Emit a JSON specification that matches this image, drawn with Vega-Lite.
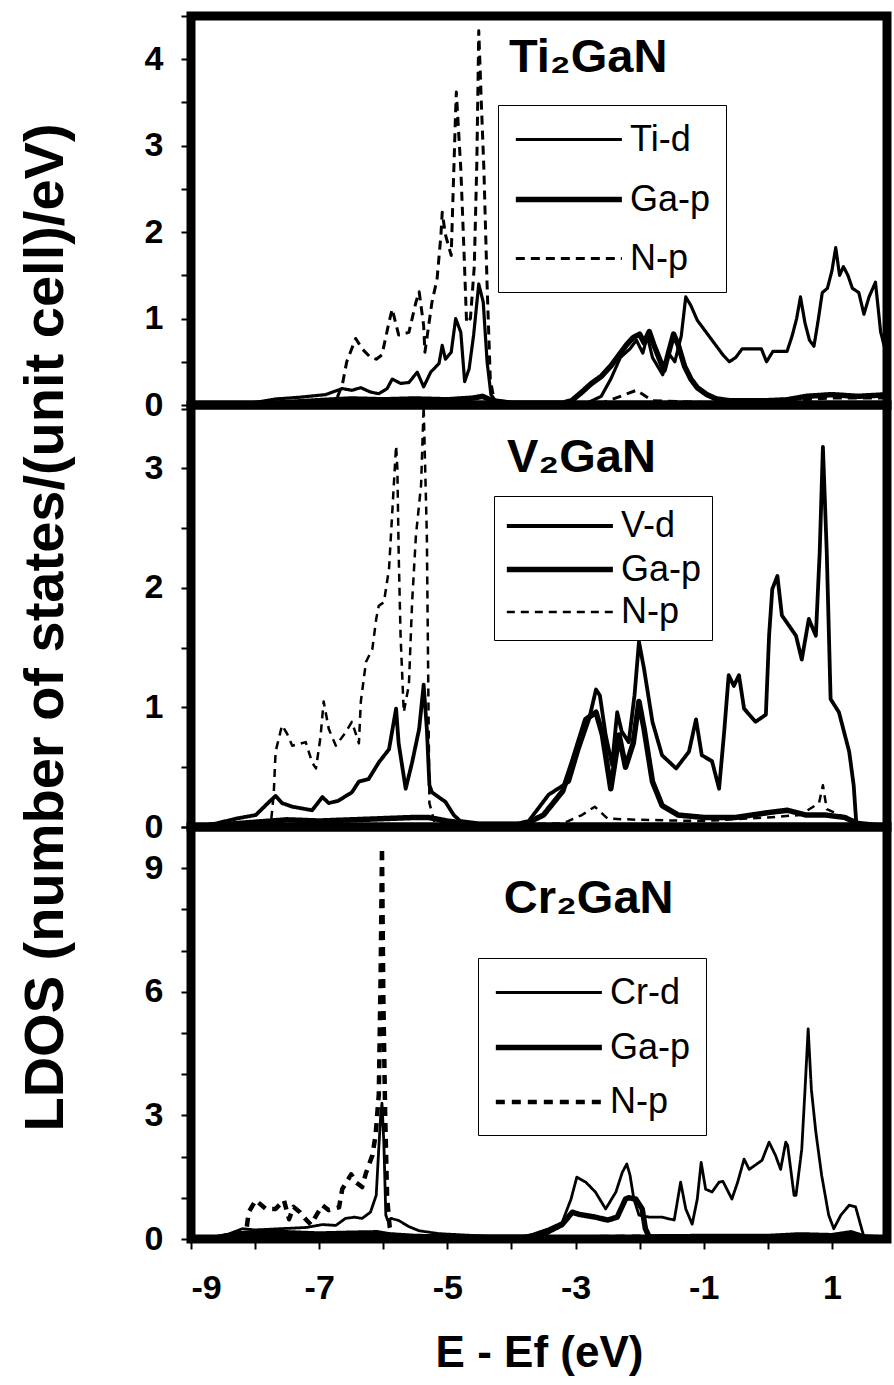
{
"$schema": "https://vega.github.io/schema/vega-lite/v6.json",
"background": "white",
"padding": {"left": 12, "top": 10, "right": 0, "bottom": 0},
"spacing": 0,
"bounds": "flush",
"config": {
  "font": "Liberation Sans",
  "view": {"stroke": "black", "strokeWidth": 9},
  "axis": {"grid": false, "domain": false, "tickColor": "black", "tickWidth": 2, "tickSize": 10, "labelColor": "black", "labelFont": "Liberation Sans", "labelFontWeight": "bold", "labelFontSize": 34, "titleColor": "black", "titleFont": "Liberation Sans", "titleFontWeight": "bold"},
  "legend": {"title": null, "orient": "none", "symbolType": "M-1,0H5", "symbolSize": 1250, "symbolStrokeColor": "black", "symbolFillColor": "transparent", "labelFont": "Liberation Sans", "labelFontSize": 36, "labelColor": "black", "strokeColor": "black", "fillColor": "white", "padding": 15, "labelOffset": 76}
},
"datasets": {
"ti": [
{"E":-9,"L":0,"s":"Ti-d"},{"E":-8.5,"L":0.01,"s":"Ti-d"},{"E":-8,"L":0.03,"s":"Ti-d"},{"E":-7.67,"L":0.07,"s":"Ti-d"},{"E":-7.3,"L":0.09,"s":"Ti-d"},{"E":-6.9,"L":0.12,"s":"Ti-d"},{"E":-6.64,"L":0.19,"s":"Ti-d"},{"E":-6.49,"L":0.17,"s":"Ti-d"},{"E":-6.35,"L":0.2,"s":"Ti-d"},{"E":-6.2,"L":0.15,"s":"Ti-d"},{"E":-6.07,"L":0.13,"s":"Ti-d"},{"E":-5.94,"L":0.19,"s":"Ti-d"},{"E":-5.86,"L":0.3,"s":"Ti-d"},{"E":-5.73,"L":0.25,"s":"Ti-d"},{"E":-5.6,"L":0.26,"s":"Ti-d"},{"E":-5.47,"L":0.38,"s":"Ti-d"},{"E":-5.37,"L":0.21,"s":"Ti-d"},{"E":-5.26,"L":0.38,"s":"Ti-d"},{"E":-5.13,"L":0.48,"s":"Ti-d"},{"E":-5.08,"L":0.69,"s":"Ti-d"},{"E":-5.03,"L":0.53,"s":"Ti-d"},{"E":-4.94,"L":0.61,"s":"Ti-d"},{"E":-4.87,"L":1.0,"s":"Ti-d"},{"E":-4.79,"L":0.84,"s":"Ti-d"},{"E":-4.73,"L":0.27,"s":"Ti-d"},{"E":-4.66,"L":0.42,"s":"Ti-d"},{"E":-4.59,"L":0.81,"s":"Ti-d"},{"E":-4.51,"L":1.4,"s":"Ti-d"},{"E":-4.44,"L":1.19,"s":"Ti-d"},{"E":-4.38,"L":0.5,"s":"Ti-d"},{"E":-4.32,"L":0.12,"s":"Ti-d"},{"E":-4.25,"L":0.05,"s":"Ti-d"},{"E":-4.0,"L":0.03,"s":"Ti-d"},{"E":-3.5,"L":0.02,"s":"Ti-d"},{"E":-3.0,"L":0.02,"s":"Ti-d"},{"E":-2.8,"L":0.03,"s":"Ti-d"},{"E":-2.6,"L":0.1,"s":"Ti-d"},{"E":-2.45,"L":0.3,"s":"Ti-d"},{"E":-2.3,"L":0.55,"s":"Ti-d"},{"E":-2.15,"L":0.65,"s":"Ti-d"},{"E":-2.05,"L":0.75,"s":"Ti-d"},{"E":-1.95,"L":0.6,"s":"Ti-d"},{"E":-1.88,"L":0.8,"s":"Ti-d"},{"E":-1.8,"L":0.55,"s":"Ti-d"},{"E":-1.72,"L":0.45,"s":"Ti-d"},{"E":-1.64,"L":0.35,"s":"Ti-d"},{"E":-1.55,"L":0.6,"s":"Ti-d"},{"E":-1.45,"L":0.5,"s":"Ti-d"},{"E":-1.35,"L":0.8,"s":"Ti-d"},{"E":-1.28,"L":1.25,"s":"Ti-d"},{"E":-1.2,"L":1.15,"s":"Ti-d"},{"E":-1.1,"L":0.98,"s":"Ti-d"},{"E":-1.0,"L":0.88,"s":"Ti-d"},{"E":-0.9,"L":0.78,"s":"Ti-d"},{"E":-0.8,"L":0.68,"s":"Ti-d"},{"E":-0.7,"L":0.58,"s":"Ti-d"},{"E":-0.6,"L":0.5,"s":"Ti-d"},{"E":-0.5,"L":0.55,"s":"Ti-d"},{"E":-0.4,"L":0.65,"s":"Ti-d"},{"E":-0.25,"L":0.65,"s":"Ti-d"},{"E":-0.1,"L":0.65,"s":"Ti-d"},{"E":-0.02,"L":0.5,"s":"Ti-d"},{"E":0.08,"L":0.62,"s":"Ti-d"},{"E":0.2,"L":0.62,"s":"Ti-d"},{"E":0.3,"L":0.62,"s":"Ti-d"},{"E":0.38,"L":0.8,"s":"Ti-d"},{"E":0.45,"L":1.0,"s":"Ti-d"},{"E":0.51,"L":1.25,"s":"Ti-d"},{"E":0.58,"L":0.95,"s":"Ti-d"},{"E":0.65,"L":0.75,"s":"Ti-d"},{"E":0.72,"L":0.68,"s":"Ti-d"},{"E":0.78,"L":0.95,"s":"Ti-d"},{"E":0.85,"L":1.3,"s":"Ti-d"},{"E":0.93,"L":1.35,"s":"Ti-d"},{"E":1.0,"L":1.55,"s":"Ti-d"},{"E":1.06,"L":1.82,"s":"Ti-d"},{"E":1.12,"L":1.5,"s":"Ti-d"},{"E":1.18,"L":1.6,"s":"Ti-d"},{"E":1.25,"L":1.5,"s":"Ti-d"},{"E":1.32,"L":1.35,"s":"Ti-d"},{"E":1.42,"L":1.3,"s":"Ti-d"},{"E":1.5,"L":1.05,"s":"Ti-d"},{"E":1.58,"L":1.25,"s":"Ti-d"},{"E":1.68,"L":1.42,"s":"Ti-d"},{"E":1.76,"L":0.85,"s":"Ti-d"},{"E":1.85,"L":0.58,"s":"Ti-d"},{"E":1.92,"L":0.25,"s":"Ti-d"},
{"E":-9,"L":0,"s":"Ga-p"},{"E":-8.5,"L":0,"s":"Ga-p"},{"E":-7.7,"L":0.02,"s":"Ga-p"},{"E":-7.0,"L":0.05,"s":"Ga-p"},{"E":-6.5,"L":0.07,"s":"Ga-p"},{"E":-6.0,"L":0.06,"s":"Ga-p"},{"E":-5.5,"L":0.07,"s":"Ga-p"},{"E":-5.0,"L":0.06,"s":"Ga-p"},{"E":-4.6,"L":0.08,"s":"Ga-p"},{"E":-4.45,"L":0.1,"s":"Ga-p"},{"E":-4.3,"L":0.05,"s":"Ga-p"},{"E":-4.0,"L":0.02,"s":"Ga-p"},{"E":-3.2,"L":0.02,"s":"Ga-p"},{"E":-3.06,"L":0.05,"s":"Ga-p"},{"E":-2.9,"L":0.15,"s":"Ga-p"},{"E":-2.75,"L":0.25,"s":"Ga-p"},{"E":-2.6,"L":0.33,"s":"Ga-p"},{"E":-2.45,"L":0.45,"s":"Ga-p"},{"E":-2.35,"L":0.55,"s":"Ga-p"},{"E":-2.2,"L":0.7,"s":"Ga-p"},{"E":-2.1,"L":0.78,"s":"Ga-p"},{"E":-2.0,"L":0.82,"s":"Ga-p"},{"E":-1.93,"L":0.72,"s":"Ga-p"},{"E":-1.85,"L":0.85,"s":"Ga-p"},{"E":-1.78,"L":0.7,"s":"Ga-p"},{"E":-1.7,"L":0.55,"s":"Ga-p"},{"E":-1.62,"L":0.4,"s":"Ga-p"},{"E":-1.55,"L":0.6,"s":"Ga-p"},{"E":-1.47,"L":0.82,"s":"Ga-p"},{"E":-1.4,"L":0.7,"s":"Ga-p"},{"E":-1.3,"L":0.45,"s":"Ga-p"},{"E":-1.2,"L":0.3,"s":"Ga-p"},{"E":-1.1,"L":0.2,"s":"Ga-p"},{"E":-0.95,"L":0.12,"s":"Ga-p"},{"E":-0.8,"L":0.07,"s":"Ga-p"},{"E":-0.6,"L":0.05,"s":"Ga-p"},{"E":0,"L":0.05,"s":"Ga-p"},{"E":0.3,"L":0.06,"s":"Ga-p"},{"E":0.6,"L":0.1,"s":"Ga-p"},{"E":1.0,"L":0.12,"s":"Ga-p"},{"E":1.4,"L":0.1,"s":"Ga-p"},{"E":1.9,"L":0.12,"s":"Ga-p"},
{"E":-9,"L":0,"s":"N-p"},{"E":-7.5,"L":0,"s":"N-p"},{"E":-6.75,"L":0.03,"s":"N-p"},{"E":-6.64,"L":0.23,"s":"N-p"},{"E":-6.57,"L":0.5,"s":"N-p"},{"E":-6.43,"L":0.77,"s":"N-p"},{"E":-6.33,"L":0.65,"s":"N-p"},{"E":-6.2,"L":0.55,"s":"N-p"},{"E":-6.11,"L":0.53,"s":"N-p"},{"E":-6.02,"L":0.58,"s":"N-p"},{"E":-5.91,"L":0.96,"s":"N-p"},{"E":-5.86,"L":1.11,"s":"N-p"},{"E":-5.76,"L":0.81,"s":"N-p"},{"E":-5.6,"L":0.84,"s":"N-p"},{"E":-5.49,"L":1.19,"s":"N-p"},{"E":-5.44,"L":1.31,"s":"N-p"},{"E":-5.37,"L":0.92,"s":"N-p"},{"E":-5.35,"L":0.61,"s":"N-p"},{"E":-5.24,"L":1.19,"s":"N-p"},{"E":-5.16,"L":1.46,"s":"N-p"},{"E":-5.1,"L":1.97,"s":"N-p"},{"E":-5.08,"L":2.23,"s":"N-p"},{"E":-5.03,"L":1.97,"s":"N-p"},{"E":-4.94,"L":1.73,"s":"N-p"},{"E":-4.87,"L":3.42,"s":"N-p"},{"E":-4.86,"L":3.62,"s":"N-p"},{"E":-4.79,"L":2.73,"s":"N-p"},{"E":-4.74,"L":1.77,"s":"N-p"},{"E":-4.7,"L":0.95,"s":"N-p"},{"E":-4.64,"L":1.0,"s":"N-p"},{"E":-4.58,"L":1.6,"s":"N-p"},{"E":-4.54,"L":2.8,"s":"N-p"},{"E":-4.51,"L":4.33,"s":"N-p"},{"E":-4.47,"L":3.5,"s":"N-p"},{"E":-4.43,"L":2.73,"s":"N-p"},{"E":-4.38,"L":1.39,"s":"N-p"},{"E":-4.33,"L":0.3,"s":"N-p"},{"E":-4.27,"L":0.05,"s":"N-p"},{"E":-4.0,"L":0.02,"s":"N-p"},{"E":-2.6,"L":0.02,"s":"N-p"},{"E":-2.3,"L":0.1,"s":"N-p"},{"E":-2.05,"L":0.17,"s":"N-p"},{"E":-1.8,"L":0.05,"s":"N-p"},{"E":-1.0,"L":0.03,"s":"N-p"},{"E":0,"L":0.03,"s":"N-p"},{"E":0.5,"L":0.06,"s":"N-p"},{"E":1.0,"L":0.08,"s":"N-p"},{"E":1.9,"L":0.08,"s":"N-p"}
],
"v": [
{"E":-9,"L":0,"s":"V-d"},{"E":-8.6,"L":0.03,"s":"V-d"},{"E":-8.3,"L":0.07,"s":"V-d"},{"E":-7.99,"L":0.1,"s":"V-d"},{"E":-7.78,"L":0.21,"s":"V-d"},{"E":-7.68,"L":0.26,"s":"V-d"},{"E":-7.58,"L":0.2,"s":"V-d"},{"E":-7.42,"L":0.17,"s":"V-d"},{"E":-7.11,"L":0.14,"s":"V-d"},{"E":-6.95,"L":0.25,"s":"V-d"},{"E":-6.85,"L":0.2,"s":"V-d"},{"E":-6.7,"L":0.22,"s":"V-d"},{"E":-6.49,"L":0.29,"s":"V-d"},{"E":-6.38,"L":0.38,"s":"V-d"},{"E":-6.23,"L":0.4,"s":"V-d"},{"E":-6.07,"L":0.54,"s":"V-d"},{"E":-5.91,"L":0.65,"s":"V-d"},{"E":-5.8,"L":0.99,"s":"V-d"},{"E":-5.76,"L":0.7,"s":"V-d"},{"E":-5.65,"L":0.32,"s":"V-d"},{"E":-5.55,"L":0.54,"s":"V-d"},{"E":-5.44,"L":0.82,"s":"V-d"},{"E":-5.37,"L":1.19,"s":"V-d"},{"E":-5.32,"L":0.82,"s":"V-d"},{"E":-5.28,"L":0.35,"s":"V-d"},{"E":-5.24,"L":0.29,"s":"V-d"},{"E":-5.03,"L":0.21,"s":"V-d"},{"E":-4.9,"L":0.1,"s":"V-d"},{"E":-4.8,"L":0.05,"s":"V-d"},{"E":-4.5,"L":0.03,"s":"V-d"},{"E":-3.9,"L":0.03,"s":"V-d"},{"E":-3.73,"L":0.05,"s":"V-d"},{"E":-3.42,"L":0.27,"s":"V-d"},{"E":-3.1,"L":0.38,"s":"V-d"},{"E":-2.95,"L":0.65,"s":"V-d"},{"E":-2.79,"L":0.9,"s":"V-d"},{"E":-2.68,"L":1.15,"s":"V-d"},{"E":-2.62,"L":1.1,"s":"V-d"},{"E":-2.53,"L":0.77,"s":"V-d"},{"E":-2.43,"L":0.52,"s":"V-d"},{"E":-2.35,"L":0.96,"s":"V-d"},{"E":-2.28,"L":0.8,"s":"V-d"},{"E":-2.17,"L":0.71,"s":"V-d"},{"E":-2.08,"L":1.1,"s":"V-d"},{"E":-2.01,"L":1.55,"s":"V-d"},{"E":-1.93,"L":1.32,"s":"V-d"},{"E":-1.8,"L":0.88,"s":"V-d"},{"E":-1.65,"L":0.6,"s":"V-d"},{"E":-1.43,"L":0.49,"s":"V-d"},{"E":-1.23,"L":0.63,"s":"V-d"},{"E":-1.12,"L":0.9,"s":"V-d"},{"E":-1.03,"L":0.6,"s":"V-d"},{"E":-0.87,"L":0.55,"s":"V-d"},{"E":-0.76,"L":0.32,"s":"V-d"},{"E":-0.68,"L":0.8,"s":"V-d"},{"E":-0.61,"L":1.27,"s":"V-d"},{"E":-0.53,"L":1.18,"s":"V-d"},{"E":-0.45,"L":1.27,"s":"V-d"},{"E":-0.37,"L":0.99,"s":"V-d"},{"E":-0.19,"L":0.88,"s":"V-d"},{"E":-0.03,"L":0.94,"s":"V-d"},{"E":0.02,"L":1.6,"s":"V-d"},{"E":0.07,"L":1.99,"s":"V-d"},{"E":0.15,"L":2.1,"s":"V-d"},{"E":0.22,"L":1.77,"s":"V-d"},{"E":0.44,"L":1.6,"s":"V-d"},{"E":0.53,"L":1.4,"s":"V-d"},{"E":0.64,"L":1.74,"s":"V-d"},{"E":0.75,"L":1.6,"s":"V-d"},{"E":0.81,"L":2.3,"s":"V-d"},{"E":0.86,"L":3.18,"s":"V-d"},{"E":0.92,"L":2.3,"s":"V-d"},{"E":0.98,"L":1.07,"s":"V-d"},{"E":1.11,"L":0.96,"s":"V-d"},{"E":1.27,"L":0.63,"s":"V-d"},{"E":1.34,"L":0.35,"s":"V-d"},{"E":1.38,"L":0.04,"s":"V-d"},{"E":1.5,"L":0,"s":"V-d"},{"E":1.9,"L":0,"s":"V-d"},
{"E":-9,"L":0,"s":"Ga-p"},{"E":-8.5,"L":0.02,"s":"Ga-p"},{"E":-8,"L":0.04,"s":"Ga-p"},{"E":-7.5,"L":0.06,"s":"Ga-p"},{"E":-7,"L":0.05,"s":"Ga-p"},{"E":-6.5,"L":0.06,"s":"Ga-p"},{"E":-6,"L":0.07,"s":"Ga-p"},{"E":-5.5,"L":0.08,"s":"Ga-p"},{"E":-5.3,"L":0.08,"s":"Ga-p"},{"E":-5.0,"L":0.05,"s":"Ga-p"},{"E":-4.6,"L":0.02,"s":"Ga-p"},{"E":-3.8,"L":0.02,"s":"Ga-p"},{"E":-3.5,"L":0.1,"s":"Ga-p"},{"E":-3.2,"L":0.3,"s":"Ga-p"},{"E":-3.05,"L":0.54,"s":"Ga-p"},{"E":-2.84,"L":0.9,"s":"Ga-p"},{"E":-2.68,"L":0.96,"s":"Ga-p"},{"E":-2.58,"L":0.77,"s":"Ga-p"},{"E":-2.45,"L":0.32,"s":"Ga-p"},{"E":-2.32,"L":0.77,"s":"Ga-p"},{"E":-2.22,"L":0.5,"s":"Ga-p"},{"E":-2.1,"L":0.7,"s":"Ga-p"},{"E":-2.01,"L":1.05,"s":"Ga-p"},{"E":-1.93,"L":0.82,"s":"Ga-p"},{"E":-1.8,"L":0.38,"s":"Ga-p"},{"E":-1.65,"L":0.18,"s":"Ga-p"},{"E":-1.4,"L":0.1,"s":"Ga-p"},{"E":-1.0,"L":0.08,"s":"Ga-p"},{"E":-0.5,"L":0.08,"s":"Ga-p"},{"E":0,"L":0.12,"s":"Ga-p"},{"E":0.3,"L":0.14,"s":"Ga-p"},{"E":0.6,"L":0.1,"s":"Ga-p"},{"E":0.9,"L":0.1,"s":"Ga-p"},{"E":1.2,"L":0.08,"s":"Ga-p"},{"E":1.4,"L":0.03,"s":"Ga-p"},{"E":1.9,"L":0,"s":"Ga-p"},
{"E":-9,"L":0,"s":"N-p"},{"E":-7.9,"L":0,"s":"N-p"},{"E":-7.75,"L":0.05,"s":"N-p"},{"E":-7.71,"L":0.27,"s":"N-p"},{"E":-7.68,"L":0.63,"s":"N-p"},{"E":-7.58,"L":0.85,"s":"N-p"},{"E":-7.5,"L":0.78,"s":"N-p"},{"E":-7.42,"L":0.68,"s":"N-p"},{"E":-7.21,"L":0.71,"s":"N-p"},{"E":-7.11,"L":0.54,"s":"N-p"},{"E":-7.05,"L":0.49,"s":"N-p"},{"E":-6.98,"L":0.75,"s":"N-p"},{"E":-6.93,"L":1.05,"s":"N-p"},{"E":-6.85,"L":0.82,"s":"N-p"},{"E":-6.74,"L":0.68,"s":"N-p"},{"E":-6.59,"L":0.79,"s":"N-p"},{"E":-6.49,"L":0.88,"s":"N-p"},{"E":-6.38,"L":0.7,"s":"N-p"},{"E":-6.35,"L":1.05,"s":"N-p"},{"E":-6.27,"L":1.38,"s":"N-p"},{"E":-6.17,"L":1.49,"s":"N-p"},{"E":-6.11,"L":1.74,"s":"N-p"},{"E":-6.07,"L":1.85,"s":"N-p"},{"E":-5.99,"L":1.88,"s":"N-p"},{"E":-5.91,"L":2.16,"s":"N-p"},{"E":-5.86,"L":2.63,"s":"N-p"},{"E":-5.8,"L":3.19,"s":"N-p"},{"E":-5.78,"L":3.0,"s":"N-p"},{"E":-5.76,"L":2.3,"s":"N-p"},{"E":-5.73,"L":1.6,"s":"N-p"},{"E":-5.68,"L":0.96,"s":"N-p"},{"E":-5.6,"L":1.19,"s":"N-p"},{"E":-5.55,"L":1.88,"s":"N-p"},{"E":-5.49,"L":2.44,"s":"N-p"},{"E":-5.41,"L":2.86,"s":"N-p"},{"E":-5.37,"L":3.52,"s":"N-p"},{"E":-5.32,"L":2.44,"s":"N-p"},{"E":-5.3,"L":1.32,"s":"N-p"},{"E":-5.28,"L":0.2,"s":"N-p"},{"E":-5.2,"L":0.04,"s":"N-p"},{"E":-4.5,"L":0.02,"s":"N-p"},{"E":-3.2,"L":0.03,"s":"N-p"},{"E":-2.9,"L":0.1,"s":"N-p"},{"E":-2.7,"L":0.17,"s":"N-p"},{"E":-2.5,"L":0.07,"s":"N-p"},{"E":-2.0,"L":0.06,"s":"N-p"},{"E":-1,"L":0.05,"s":"N-p"},{"E":0,"L":0.08,"s":"N-p"},{"E":0.5,"L":0.1,"s":"N-p"},{"E":0.8,"L":0.2,"s":"N-p"},{"E":0.86,"L":0.35,"s":"N-p"},{"E":0.92,"L":0.15,"s":"N-p"},{"E":1.2,"L":0.08,"s":"N-p"},{"E":1.4,"L":0.02,"s":"N-p"},{"E":1.9,"L":0,"s":"N-p"}
],
"cr": [
{"E":-9,"L":0,"s":"Cr-d"},{"E":-8.7,"L":0.03,"s":"Cr-d"},{"E":-8.41,"L":0.12,"s":"Cr-d"},{"E":-8.2,"L":0.25,"s":"Cr-d"},{"E":-8.0,"L":0.22,"s":"Cr-d"},{"E":-7.6,"L":0.25,"s":"Cr-d"},{"E":-7.2,"L":0.28,"s":"Cr-d"},{"E":-6.95,"L":0.35,"s":"Cr-d"},{"E":-6.74,"L":0.33,"s":"Cr-d"},{"E":-6.59,"L":0.5,"s":"Cr-d"},{"E":-6.45,"L":0.53,"s":"Cr-d"},{"E":-6.33,"L":0.5,"s":"Cr-d"},{"E":-6.2,"L":0.65,"s":"Cr-d"},{"E":-6.11,"L":1.06,"s":"Cr-d"},{"E":-6.07,"L":2.2,"s":"Cr-d"},{"E":-6.04,"L":3.0,"s":"Cr-d"},{"E":-6.02,"L":3.3,"s":"Cr-d"},{"E":-5.99,"L":2.3,"s":"Cr-d"},{"E":-5.96,"L":0.58,"s":"Cr-d"},{"E":-5.93,"L":0.45,"s":"Cr-d"},{"E":-5.88,"L":0.5,"s":"Cr-d"},{"E":-5.76,"L":0.45,"s":"Cr-d"},{"E":-5.6,"L":0.3,"s":"Cr-d"},{"E":-5.44,"L":0.2,"s":"Cr-d"},{"E":-5.13,"L":0.13,"s":"Cr-d"},{"E":-4.77,"L":0.1,"s":"Cr-d"},{"E":-4.3,"L":0.06,"s":"Cr-d"},{"E":-3.9,"L":0.05,"s":"Cr-d"},{"E":-3.73,"L":0.08,"s":"Cr-d"},{"E":-3.42,"L":0.25,"s":"Cr-d"},{"E":-3.21,"L":0.4,"s":"Cr-d"},{"E":-3.07,"L":0.97,"s":"Cr-d"},{"E":-2.98,"L":1.5,"s":"Cr-d"},{"E":-2.84,"L":1.38,"s":"Cr-d"},{"E":-2.69,"L":1.14,"s":"Cr-d"},{"E":-2.53,"L":0.73,"s":"Cr-d"},{"E":-2.37,"L":1.14,"s":"Cr-d"},{"E":-2.27,"L":1.62,"s":"Cr-d"},{"E":-2.2,"L":1.82,"s":"Cr-d"},{"E":-2.15,"L":1.55,"s":"Cr-d"},{"E":-2.09,"L":0.97,"s":"Cr-d"},{"E":-2.01,"L":0.58,"s":"Cr-d"},{"E":-1.85,"L":0.53,"s":"Cr-d"},{"E":-1.65,"L":0.53,"s":"Cr-d"},{"E":-1.46,"L":0.46,"s":"Cr-d"},{"E":-1.36,"L":1.38,"s":"Cr-d"},{"E":-1.28,"L":0.73,"s":"Cr-d"},{"E":-1.18,"L":0.36,"s":"Cr-d"},{"E":-1.1,"L":0.97,"s":"Cr-d"},{"E":-1.04,"L":1.86,"s":"Cr-d"},{"E":-0.97,"L":1.21,"s":"Cr-d"},{"E":-0.87,"L":1.14,"s":"Cr-d"},{"E":-0.76,"L":1.38,"s":"Cr-d"},{"E":-0.7,"L":1.4,"s":"Cr-d"},{"E":-0.56,"L":0.97,"s":"Cr-d"},{"E":-0.47,"L":1.38,"s":"Cr-d"},{"E":-0.37,"L":1.94,"s":"Cr-d"},{"E":-0.29,"L":1.69,"s":"Cr-d"},{"E":-0.09,"L":1.91,"s":"Cr-d"},{"E":0.02,"L":2.35,"s":"Cr-d"},{"E":0.12,"L":2.03,"s":"Cr-d"},{"E":0.2,"L":1.69,"s":"Cr-d"},{"E":0.28,"L":2.35,"s":"Cr-d"},{"E":0.31,"L":2.27,"s":"Cr-d"},{"E":0.41,"L":1.06,"s":"Cr-d"},{"E":0.44,"L":1.06,"s":"Cr-d"},{"E":0.53,"L":2.18,"s":"Cr-d"},{"E":0.58,"L":3.6,"s":"Cr-d"},{"E":0.63,"L":5.1,"s":"Cr-d"},{"E":0.68,"L":3.63,"s":"Cr-d"},{"E":0.75,"L":2.59,"s":"Cr-d"},{"E":0.84,"L":1.55,"s":"Cr-d"},{"E":0.95,"L":0.58,"s":"Cr-d"},{"E":1.03,"L":0.25,"s":"Cr-d"},{"E":1.14,"L":0.58,"s":"Cr-d"},{"E":1.27,"L":0.82,"s":"Cr-d"},{"E":1.37,"L":0.78,"s":"Cr-d"},{"E":1.45,"L":0.33,"s":"Cr-d"},{"E":1.5,"L":0.05,"s":"Cr-d"},{"E":1.9,"L":0.02,"s":"Cr-d"},
{"E":-9,"L":0,"s":"Ga-p"},{"E":-8.6,"L":0.03,"s":"Ga-p"},{"E":-8.3,"L":0.12,"s":"Ga-p"},{"E":-8.0,"L":0.15,"s":"Ga-p"},{"E":-7.5,"L":0.15,"s":"Ga-p"},{"E":-7.0,"L":0.12,"s":"Ga-p"},{"E":-6.5,"L":0.14,"s":"Ga-p"},{"E":-6.1,"L":0.15,"s":"Ga-p"},{"E":-5.9,"L":0.1,"s":"Ga-p"},{"E":-5.5,"L":0.06,"s":"Ga-p"},{"E":-4.5,"L":0.04,"s":"Ga-p"},{"E":-3.8,"L":0.04,"s":"Ga-p"},{"E":-3.5,"L":0.12,"s":"Ga-p"},{"E":-3.21,"L":0.35,"s":"Ga-p"},{"E":-3.05,"L":0.65,"s":"Ga-p"},{"E":-2.95,"L":0.6,"s":"Ga-p"},{"E":-2.69,"L":0.53,"s":"Ga-p"},{"E":-2.5,"L":0.46,"s":"Ga-p"},{"E":-2.35,"L":0.53,"s":"Ga-p"},{"E":-2.22,"L":0.97,"s":"Ga-p"},{"E":-2.17,"L":1.0,"s":"Ga-p"},{"E":-2.06,"L":0.97,"s":"Ga-p"},{"E":-1.96,"L":0.73,"s":"Ga-p"},{"E":-1.91,"L":0.25,"s":"Ga-p"},{"E":-1.85,"L":0.05,"s":"Ga-p"},{"E":-1.0,"L":0.06,"s":"Ga-p"},{"E":0,"L":0.06,"s":"Ga-p"},{"E":0.5,"L":0.1,"s":"Ga-p"},{"E":1.0,"L":0.08,"s":"Ga-p"},{"E":1.3,"L":0.15,"s":"Ga-p"},{"E":1.5,"L":0.05,"s":"Ga-p"},{"E":1.9,"L":0.02,"s":"Ga-p"},
{"E":-9,"L":0,"s":"N-p"},{"E":-8.5,"L":0,"s":"N-p"},{"E":-8.2,"L":0.02,"s":"N-p"},{"E":-8.14,"L":0.17,"s":"N-p"},{"E":-8.1,"L":0.65,"s":"N-p"},{"E":-7.99,"L":0.94,"s":"N-p"},{"E":-7.83,"L":0.73,"s":"N-p"},{"E":-7.68,"L":0.73,"s":"N-p"},{"E":-7.55,"L":0.94,"s":"N-p"},{"E":-7.47,"L":0.48,"s":"N-p"},{"E":-7.4,"L":0.78,"s":"N-p"},{"E":-7.3,"L":0.65,"s":"N-p"},{"E":-7.21,"L":0.48,"s":"N-p"},{"E":-7.13,"L":0.35,"s":"N-p"},{"E":-6.95,"L":0.82,"s":"N-p"},{"E":-6.85,"L":0.7,"s":"N-p"},{"E":-6.69,"L":0.77,"s":"N-p"},{"E":-6.64,"L":1.21,"s":"N-p"},{"E":-6.5,"L":1.57,"s":"N-p"},{"E":-6.42,"L":1.37,"s":"N-p"},{"E":-6.33,"L":1.26,"s":"N-p"},{"E":-6.27,"L":1.6,"s":"N-p"},{"E":-6.17,"L":2.03,"s":"N-p"},{"E":-6.12,"L":2.52,"s":"N-p"},{"E":-6.07,"L":3.5,"s":"N-p"},{"E":-6.04,"L":6.5,"s":"N-p"},{"E":-6.02,"L":9.5,"s":"N-p"},{"E":-6.0,"L":6.0,"s":"N-p"},{"E":-5.97,"L":3.0,"s":"N-p"},{"E":-5.94,"L":1.0,"s":"N-p"},{"E":-5.9,"L":0.3,"s":"N-p"},{"E":-5.85,"L":0.1,"s":"N-p"},{"E":-5.7,"L":0.03,"s":"N-p"},{"E":-4,"L":0.02,"s":"N-p"},{"E":-2.5,"L":0.05,"s":"N-p"},{"E":-1,"L":0.06,"s":"N-p"},{"E":0,"L":0.05,"s":"N-p"},{"E":1,"L":0.06,"s":"N-p"},{"E":1.9,"L":0.03,"s":"N-p"}
]
},
"resolve": {"scale": {"strokeDash": "independent", "strokeWidth": "independent"}, "legend": {"strokeDash": "independent", "strokeWidth": "independent"}},
"vconcat": [
{
 "width": 696, "height": 389,
 "layer": [
  {"data": {"name": "ti"}, "mark": {"type": "line", "clip": true, "color": "black", "strokeJoin": "round"},
   "encoding": {
    "x": {"field": "E", "type": "quantitative", "scale": {"domain": [-9, 1.86], "nice": false, "zero": false}, "axis": null},
    "y": {"field": "L", "type": "quantitative", "scale": {"domain": [0, 4.5], "nice": false}, "axis": {"title": null, "values": [0,0.5,1,1.5,2,2.5,3,3.5,4,4.5], "labelExpr": "datum.value % 1 == 0 ? '' + datum.value : ''", "labelPadding": 18}},
    "strokeDash": {"field": "s", "type": "nominal", "scale": {"domain": ["Ti-d","Ga-p","N-p"], "range": [[1,0],[1,0],[9,6]]}, "legend": {"legendX": 307, "legendY": 89, "rowPadding": 21}},
    "strokeWidth": {"field": "s", "type": "nominal", "scale": {"type": "ordinal", "domain": ["Ti-d","Ga-p","N-p"], "range": [3.2,5.5,3]}, "legend": {"legendX": 307, "legendY": 89, "rowPadding": 21}}
   }},
  {"mark": {"type": "rule", "strokeDash": [26,8,5,8], "strokeWidth": 6, "color": "black"}, "encoding": {"x": {"datum": 0}}},
  {"data": {"values": [{"t": "Ti₂GaN"}]}, "mark": {"type": "text", "align": "left", "baseline": "alphabetic", "fontSize": 47, "fontWeight": "bold", "font": "Liberation Sans", "color": "black"}, "encoding": {"text": {"field": "t"}, "x": {"datum": -4.04}, "y": {"datum": 3.85}}}
 ]
},
{
 "width": 696, "height": 422,
 "layer": [
  {"data": {"name": "v"}, "mark": {"type": "line", "clip": true, "color": "black", "strokeJoin": "round"},
   "encoding": {
    "x": {"field": "E", "type": "quantitative", "scale": {"domain": [-9, 1.86], "nice": false, "zero": false}, "axis": null},
    "y": {"field": "L", "type": "quantitative", "scale": {"domain": [0, 3.53], "nice": false}, "axis": {"title": "LDOS (number of states/(unit cell)/eV)", "titleFontSize": 56, "titlePadding": 70, "titleY": 222, "values": [0,0.5,1,1.5,2,2.5,3,3.5], "labelExpr": "datum.value % 1 == 0 ? '' + datum.value : ''", "labelPadding": 18}},
    "strokeDash": {"field": "s", "type": "nominal", "scale": {"domain": ["V-d","Ga-p","N-p"], "range": [[1,0],[1,0],[8,6]]}, "legend": {"legendX": 303, "legendY": 91, "rowPadding": 5, "padding": 10}},
    "strokeWidth": {"field": "s", "type": "nominal", "scale": {"type": "ordinal", "domain": ["V-d","Ga-p","N-p"], "range": [3.8,5.5,2.5]}, "legend": {"legendX": 303, "legendY": 91, "rowPadding": 5, "padding": 10}}
   }},
  {"mark": {"type": "rule", "strokeDash": [26,8,5,8], "strokeWidth": 6, "color": "black"}, "encoding": {"x": {"datum": 0}}},
  {"data": {"values": [{"t": "V₂GaN"}]}, "mark": {"type": "text", "align": "left", "baseline": "alphabetic", "fontSize": 47, "fontWeight": "bold", "font": "Liberation Sans", "color": "black"}, "encoding": {"text": {"field": "t"}, "x": {"datum": -4.07}, "y": {"datum": 2.97}}}
 ]
},
{
 "width": 696, "height": 412,
 "layer": [
  {"data": {"name": "cr"}, "mark": {"type": "line", "clip": true, "color": "black", "strokeJoin": "round"},
   "encoding": {
    "x": {"field": "E", "type": "quantitative", "scale": {"domain": [-9, 1.86], "nice": false, "zero": false}, "axis": {"title": "E - Ef (eV)", "titleFontSize": 44, "titlePadding": 26, "values": [-9,-8,-7,-6,-5,-4,-3,-2,-1,0,1], "labelExpr": "datum.value % 2 != 0 ? '' + datum.value : ''", "labelPadding": 22}},
    "y": {"field": "L", "type": "quantitative", "scale": {"domain": [0, 10], "nice": false}, "axis": {"title": null, "values": [0,1,2,3,4,5,6,7,8,9,10], "labelExpr": "datum.value % 3 == 0 && datum.value < 10 ? '' + datum.value : ''", "labelPadding": 18}},
    "strokeDash": {"field": "s", "type": "nominal", "scale": {"domain": ["Cr-d","Ga-p","N-p"], "range": [[1,0],[1,0],[9,7]]}, "legend": {"legendX": 287, "legendY": 131, "rowPadding": 16}},
    "strokeWidth": {"field": "s", "type": "nominal", "scale": {"type": "ordinal", "domain": ["Cr-d","Ga-p","N-p"], "range": [2.8,5.5,4.5]}, "legend": {"legendX": 287, "legendY": 131, "rowPadding": 16}}
   }},
  {"mark": {"type": "rule", "strokeDash": [26,8,5,8], "strokeWidth": 6, "color": "black"}, "encoding": {"x": {"datum": 0}}},
  {"data": {"values": [{"t": "Cr₂GaN"}]}, "mark": {"type": "text", "align": "left", "baseline": "alphabetic", "fontSize": 47, "fontWeight": "bold", "font": "Liberation Sans", "color": "black"}, "encoding": {"text": {"field": "t"}, "x": {"datum": -4.12}, "y": {"datum": 7.92}}}
 ]
}
]
}
